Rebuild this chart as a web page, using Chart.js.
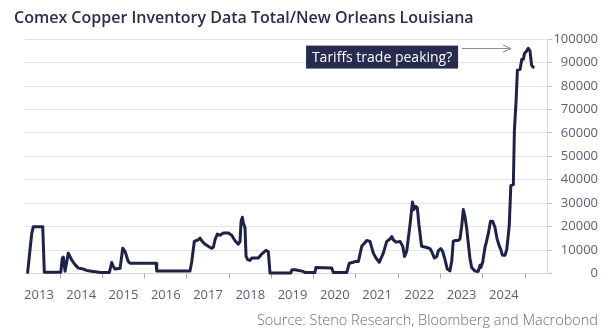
<!DOCTYPE html>
<html>
<head>
<meta charset="utf-8">
<script src="https://cdn.jsdelivr.net/npm/chart.js@4.4.1/dist/chart.umd.min.js"></script>
<style>
  html, body { margin: 0; padding: 0; background: #ffffff; }
  #wrap { width: 609px; height: 335px; position: relative; }
</style>
</head>
<body>
<div id="wrap"><canvas id="chart" width="609" height="335"></canvas></div>
<script>
// Observation dates (YYYY-MM-DD) and Comex copper stocks, New Orleans, tonnes
const dates = [
  '2013-03-27','2013-05-01','2013-05-15','2013-08-04','2013-08-18',
  '2014-01-07','2014-01-20','2014-01-29','2014-02-13','2014-03-13','2014-04-11','2014-05-10',
  '2014-06-08','2014-07-20','2014-08-19','2014-10-15','2014-12-12',
  '2015-03-02','2015-03-23','2015-04-06','2015-04-21','2015-06-03','2015-06-26','2015-07-16',
  '2015-08-13','2015-08-28','2016-04-09','2016-04-15',
  '2017-01-28','2017-02-12','2017-03-06','2017-04-10','2017-04-24','2017-05-09','2017-06-07',
  '2017-07-05','2017-08-04','2017-08-18','2017-09-01','2017-09-21','2017-10-14','2017-11-12',
  '2017-12-25','2018-01-23','2018-02-21','2018-03-21','2018-04-05','2018-04-14','2018-04-25',
  '2018-05-04','2018-05-18','2018-05-27','2018-06-10','2018-06-30','2018-07-15','2018-09-10',
  '2018-10-09','2018-11-15','2018-12-05','2018-12-20',
  '2019-06-17','2019-06-28','2019-07-24','2019-10-03','2019-10-18',
  '2020-01-12','2020-01-21','2020-06-05','2020-06-19','2020-10-13','2020-11-05','2020-12-09',
  '2020-12-24','2021-01-22','2021-02-20','2021-04-04','2021-05-02','2021-05-31','2021-06-23',
  '2021-07-22','2021-08-25','2021-09-24','2021-10-22','2021-11-06','2021-11-20','2021-12-13',
  '2022-01-17','2022-02-09','2022-02-25','2022-03-15','2022-04-13','2022-05-04','2022-05-17',
  '2022-06-01','2022-06-15','2022-06-29','2022-07-22','2022-09-04','2022-10-03','2022-10-17',
  '2022-11-09','2022-11-30','2022-12-13',
  '2023-01-03','2023-01-20','2023-02-09','2023-02-28','2023-03-23','2023-04-08','2023-04-21',
  '2023-05-06','2023-06-04','2023-06-18','2023-07-03','2023-07-17','2023-07-31','2023-08-15',
  '2023-08-29','2023-09-12','2023-09-27','2023-10-25','2023-11-23','2023-12-08','2023-12-16',
  '2024-01-01','2024-01-20','2024-02-04','2024-02-18','2024-03-08','2024-03-27','2024-04-16',
  '2024-05-03','2024-05-21','2024-06-05','2024-06-19','2024-07-12','2024-07-27','2024-08-10',
  '2024-08-18','2024-08-31','2024-09-22','2024-10-01','2024-10-16','2024-10-27','2024-11-19',
  '2024-12-04','2024-12-18','2024-12-27','2025-01-15','2025-01-29','2025-02-13','2025-02-27',
  '2025-03-13'
];
const inventory = [
  500, 17000, 20000, 20000, 500,
  500, 6500, 7000, 1000, 8700, 5800, 3800,
  2300, 1900, 1300, 900, 400,
  400, 4700, 3000, 1900, 2200, 10800, 9400,
  5100, 4400, 4400, 1100,
  1100, 5000, 13700, 14400, 15100, 14000, 12500,
  11600, 10800, 11300, 14400, 16800, 16300, 17300,
  17300, 16300, 14000, 12500, 13700, 22300, 24000,
  21500, 19400, 7300, 5900, 5600, 6600, 6600,
  8300, 9900, 9400, 200,
  200, 1600, 1600, 900, 400,
  400, 2600, 2300, 400, 400, 4400, 4800,
  5100, 5100, 11600, 14100, 13700, 8700, 6600,
  4800, 8700, 13700, 14700, 15800, 14400, 13400,
  13700, 11600, 7300, 9400, 20800, 30500, 27300,
  28700, 28000, 20800, 11600, 11100, 10600, 9400,
  6600, 7300, 9700,
  10600, 9400, 5900, 2000, 1100, 5100, 13700,
  14100, 14100, 14700, 20100, 27300, 24400, 19400,
  13000, 6600, 2600, 1100, 900, 3500, 2600,
  5000, 11000, 14000, 17000, 22300, 22300, 19600,
  15000, 12000, 10300, 7800, 7800, 10300, 16700,
  21000, 37500, 37900, 61100, 73900, 86800, 87100,
  91400, 91400, 93900, 95000, 96100, 95000, 88800,
  88100
];
// Axis labels: calendar years shown under the time axis, value ticks on the right
const yearLabels = ['2013','2014','2015','2016','2017','2018','2019','2020','2021','2022','2023','2024'];
const valueTicks = [0, 10000, 20000, 30000, 40000, 50000, 60000, 70000, 80000, 90000, 100000];

const titleText = 'Comex Copper Inventory Data Total/New Orleans Louisiana';
const sourceText = 'Source: Steno Research, Bloomberg and Macrobond';
const calloutText = 'Tariffs trade peaking?';

// Convert a YYYY-MM-DD string to a fractional year for the linear time axis
function toYear(s) {
  const [y, m, d] = s.split('-').map(Number);
  const start = Date.UTC(y, 0, 1);
  const end = Date.UTC(y + 1, 0, 1);
  return y + (Date.UTC(y, m - 1, d) - start) / (end - start);
}

const points = dates.map((d, i) => ({ x: toYear(d), y: inventory[i] }));

const NAVY = '#1e2246';
const LABEL = '#5b5f78';

// Callout box with an arrow pointing at the recent peak
const callout = {
  id: 'callout',
  afterDatasetsDraw(chart) {
    const { ctx, scales } = chart;
    const tipX = scales.x.getPixelForValue(2024.67);
    const tipY = scales.y.getPixelForValue(96000);
    const arrowStart = tipX - 49;
    ctx.save();
    ctx.strokeStyle = '#8a8a8a';
    ctx.lineWidth = 1;
    ctx.beginPath();
    ctx.moveTo(arrowStart, tipY);
    ctx.lineTo(tipX, tipY);
    ctx.moveTo(tipX - 8, tipY - 3.5);
    ctx.lineTo(tipX, tipY);
    ctx.lineTo(tipX - 8, tipY + 3.5);
    ctx.stroke();

    const boxRight = arrowStart - 4;
    const boxW = 152, boxH = 23;
    const boxX = boxRight - boxW;
    const boxY = tipY - 3;
    ctx.fillStyle = '#272b50';
    ctx.fillRect(boxX, boxY, boxW, boxH);
    ctx.fillStyle = '#ffffff';
    ctx.font = '14px "Open Sans", sans-serif';
    ctx.textAlign = 'center';
    ctx.textBaseline = 'middle';
    ctx.fillText(calloutText, boxX + boxW / 2, boxY + boxH / 2 + 0.5);
    ctx.restore();
  }
};

new Chart(document.getElementById('chart'), {
  type: 'line',
  data: {
    datasets: [{
      data: points,
      borderColor: NAVY,
      borderWidth: 3,
      borderJoinStyle: 'round',
      borderCapStyle: 'round',
      pointRadius: 0,
      tension: 0,
      fill: false
    }]
  },
  options: {
    responsive: false,
    animation: false,
    layout: { padding: { left: 14, right: 11, top: 0, bottom: 0 } },
    plugins: {
      legend: { display: false },
      tooltip: { enabled: false },
      title: {
        display: true,
        text: titleText,
        align: 'start',
        color: '#2b2e4c',
        font: { family: '"Open Sans", sans-serif', size: 16, weight: '600' },
        padding: { top: 9, bottom: 11 }
      },
      subtitle: {
        display: true,
        position: 'bottom',
        text: sourceText,
        align: 'end',
        color: '#6a6d80',
        font: { family: '"Open Sans", sans-serif', size: 14.5, weight: '300' },
        padding: { top: 0, bottom: 5.5 }
      }
    },
    scales: {
      x: {
        type: 'linear',
        min: 2013.17,
        max: 2025.52,
        afterBuildTicks(scale) {
          const ticks = [];
          yearLabels.forEach((label) => {
            const yr = Number(label);
            ticks.push({ value: yr + 0.5 });
            ticks.push({ value: yr + 1 });
          });
          scale.ticks = ticks;
        },
        grid: {
          drawOnChartArea: false,
          drawTicks: true,
          tickLength: 5,
          tickColor: (c) => (c.tick && Number.isInteger(c.tick.value) ? '#a9abb8' : 'rgba(0,0,0,0)')
        },
        border: { display: true, color: '#d6d6d6', width: 1 },
        ticks: {
          autoSkip: false,
          maxRotation: 0,
          padding: 9,
          color: LABEL,
          font: { family: '"Open Sans", sans-serif', size: 13 },
          callback: (v) => (Number.isInteger(v) ? '' : String(Math.floor(v)))
        }
      },
      pad: {
        type: 'linear',
        position: 'left',
        display: true,
        grid: { display: false },
        border: { display: false },
        ticks: { display: false },
        afterFit(scale) { scale.width = 11; }
      },
      y: {
        type: 'linear',
        position: 'right',
        min: 0,
        max: 100000,
        afterBuildTicks(scale) {
          scale.ticks = valueTicks.map((v) => ({ value: v }));
        },
        afterFit(scale) { scale.width = 51; },
        grid: {
          color: '#e4e4e4',
          lineWidth: 1,
          drawTicks: true,
          tickLength: 5,
          tickColor: '#c4c4c4'
        },
        border: { display: true, color: '#d8d8d8', width: 1 },
        ticks: {
          crossAlign: 'far',
          padding: 4,
          color: LABEL,
          font: { family: '"Open Sans", sans-serif', size: 13 },
          callback: (v) => String(v)
        }
      }
    }
  },
  plugins: [callout]
});
</script>
</body>
</html>
